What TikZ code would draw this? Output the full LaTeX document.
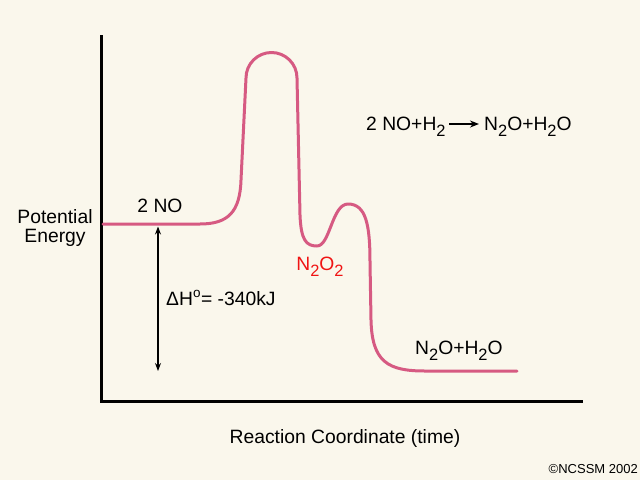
\documentclass[tikz,border=0pt]{standalone}
\usepackage{fontspec}
\setmainfont{Liberation Sans}
\usetikzlibrary{arrows.meta}
\definecolor{bgc}{RGB}{250,247,236}
\definecolor{curvec}{RGB}{214,90,130}
\definecolor{labred}{RGB}{240,20,20}
\newcommand\dn[1]{\raisebox{-0.32em}{\scalebox{0.85}{#1}}}
\tikzset{
  lab/.style={inner sep=0pt, font=\fontsize{19.3}{19.3}\selectfont},
  axis/.style={line width=2.7pt, line cap=rect},
  energy/.style={line width=3pt, color=curvec, line cap=round, line join=round},
  dharrow/.style={line width=1.2pt, {Stealth[length=8pt,width=6pt]}-{Stealth[length=8pt,width=6pt]}},
  eqarrow/.style={line width=1.6pt, -{Stealth[length=9pt,width=7pt]}}
}
\begin{document}
\begin{tikzpicture}[x=1pt,y=-1pt]
\fill[bgc] (0,0) rectangle (640,480);
\useasboundingbox (0,0) rectangle (640,480);
% axes
\coordinate (top) at (101.3,36);
\coordinate (origin) at (101.3,401.3);
\coordinate (xend) at (581.5,401.3);
\draw[axis] (top) -- (origin) -- (xend);
% energy curve
\draw[energy] (103,224) -- (200,224)
  .. controls (228,224) and (240,212) .. (241,180)
  -- (246,78)
  arc[start angle=180, end angle=360, radius=25.5]
  -- (300,215)
  .. controls (301,240) and (306,246) .. (317,246)
  .. controls (330,246) and (332,204) .. (348,204)
  .. controls (366,204) and (370,225) .. (370,262)
  -- (371,320)
  .. controls (372,362) and (388,371) .. (425,371)
  -- (517,371);
% labels
\node[lab, align=center] (pe) at (55,228) {Potential\\[-0.5pt]Energy};
\node[lab, anchor=base] (reac) at (160,212.7) {2 NO};
\node[lab, anchor=base west] (dh) at (166,305) {ΔH\textsuperscript{o}= -340kJ};
\node[lab, anchor=base, text=labred] (inter) at (320,270) {N\dn{2}O\dn{2}};
\node[lab, anchor=base west] (prod) at (415,354) {N\dn{2}O+H\dn{2}O};
\node[lab, anchor=base west] (lhs) at (366,130.7) {2 NO+H\dn{2}};
\node[lab, anchor=base west] (rhs) at (484,130.7) {N\dn{2}O+H\dn{2}O};
\node[lab, anchor=base] (xlab) at (345,443) {Reaction Coordinate (time)};
\node[inner sep=0pt, anchor=base east, font=\fontsize{13}{13}\selectfont] (copy) at (638,473.5) {©NCSSM 2002};
% arrows
\coordinate (dtop) at (158,226.5);
\coordinate (dbot) at (158,371);
\draw[dharrow] (dtop) -- (dbot);
\coordinate (ea) at (449,124);
\coordinate (eb) at (479,124);
\draw[eqarrow] (ea) -- (eb);
\end{tikzpicture}
\end{document}
